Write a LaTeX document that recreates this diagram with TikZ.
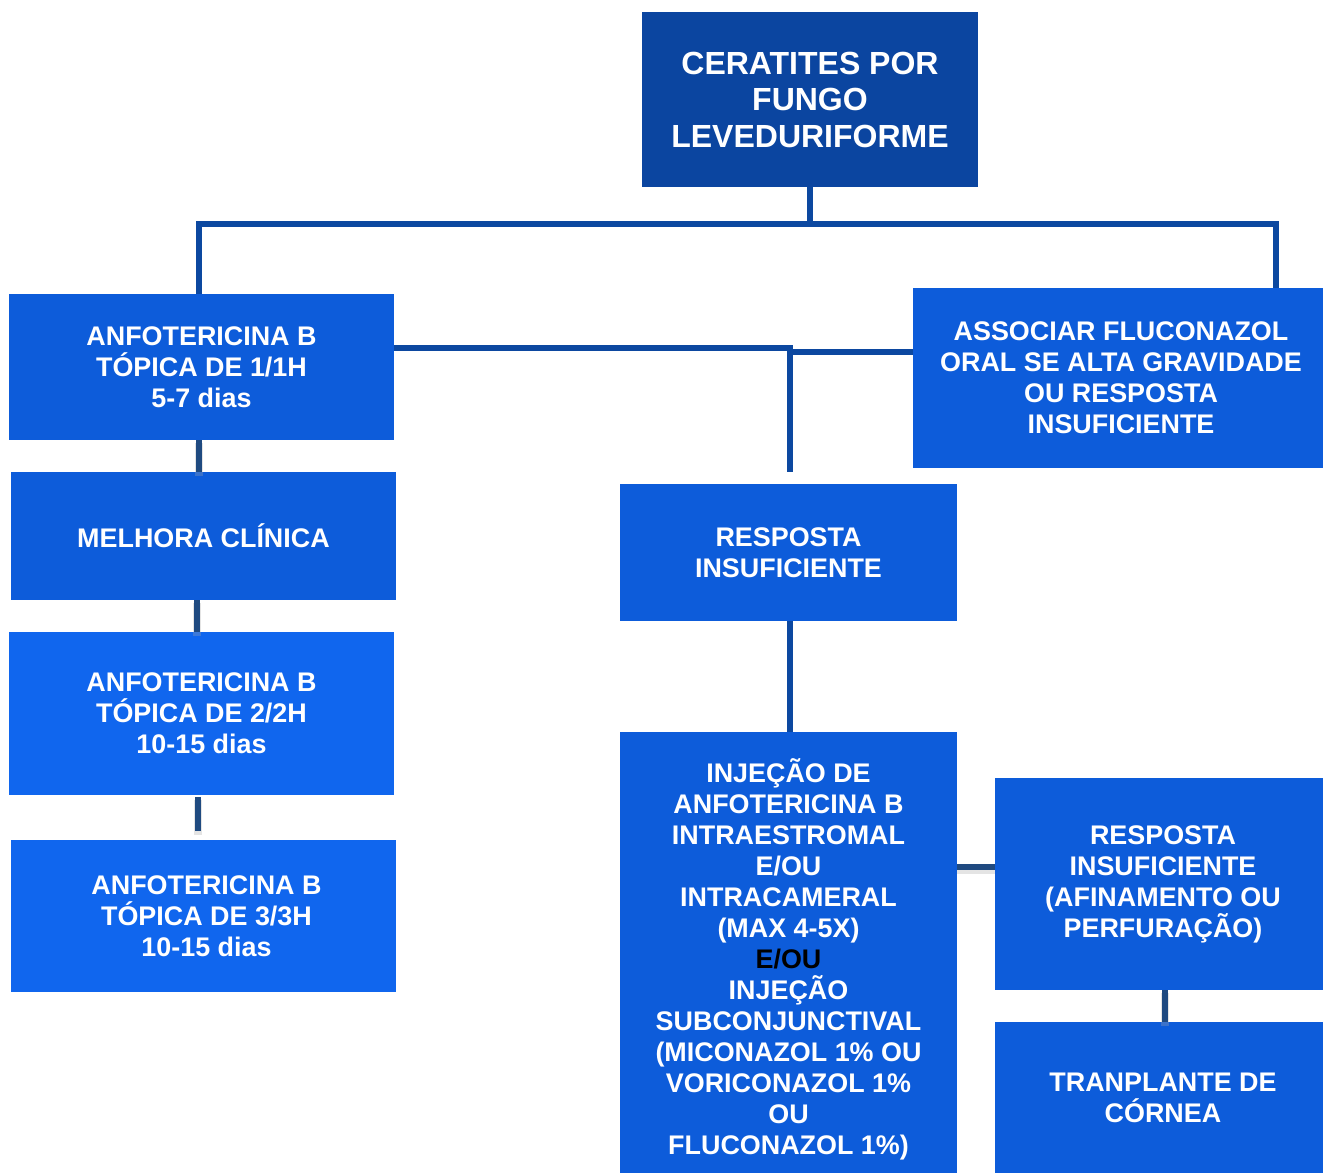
\documentclass[tikz,border=0pt]{standalone}
\usepackage{fontspec}
\setmainfont{Liberation Sans}
\usetikzlibrary{calc}
\definecolor{topblue}{RGB}{11,69,160}
\definecolor{boxone}{RGB}{13,92,218}
\definecolor{boxtwo}{RGB}{16,102,238}
\definecolor{conn}{RGB}{12,72,160}
\definecolor{shortconn}{RGB}{31,74,128}
\begin{document}
\begin{tikzpicture}[x=1pt,y=-1pt,
  basebox/.style={text=white, align=center, inner sep=0pt, anchor=center,
    font=\fontsize{26.9}{31}\selectfont\bfseries},
  boxa/.style={basebox, fill=boxone},
  boxb/.style={basebox, fill=boxtwo},
  topbox/.style={basebox, fill=topblue, font=\fontsize{32}{36.5}\selectfont\bfseries},
  mainline/.style={draw=conn, line width=6pt, line join=miter},
  shortline/.style={draw=shortconn, line width=6pt},
  shadowline/.style={draw=black!35, line width=8pt, opacity=0.3}
]
\useasboundingbox (0,0) rectangle (1323,1173);

% nodes
\node[topbox, minimum width=336pt, minimum height=175pt] (top) at (810,99.5)
  {CERATITES POR\\FUNGO\\LEVEDURIFORME};
\node[boxa, minimum width=385pt, minimum height=146pt] (A) at (201.5,367)
  {ANFOTERICINA B\\TÓPICA DE 1/1H\\5-7 dias};
\node[boxa, minimum width=385pt, minimum height=128pt] (mel) at (203.5,536)
  {MELHORA CLÍNICA};
\node[boxb, minimum width=385pt, minimum height=163pt] (B) at (201.5,713.5)
  {ANFOTERICINA B\\TÓPICA DE 2/2H\\10-15 dias};
\node[boxb, minimum width=385pt, minimum height=152pt] (C) at (203.5,916)
  {\hspace*{6pt}ANFOTERICINA B\\\hspace*{6pt}TÓPICA DE 3/3H\\\hspace*{6pt}10-15 dias};
\node[boxa, minimum width=410pt, minimum height=180pt] (assoc) at (1118,378)
  {\hspace*{6pt}ASSOCIAR FLUCONAZOL\\\hspace*{6pt}ORAL SE ALTA GRAVIDADE\\\hspace*{6pt}OU RESPOSTA\\\hspace*{6pt}INSUFICIENTE};
\node[boxa, minimum width=337pt, minimum height=137pt] (resp) at (788.5,552.5)
  {RESPOSTA\\INSUFICIENTE};
\node[boxa, minimum width=337pt, minimum height=441pt] (inj) at (788.5,952.5) {};
\node[basebox] (injtext) at (788.5,959.5)
  {INJEÇÃO DE\\ANFOTERICINA B\\INTRAESTROMAL\\E/OU\\INTRACAMERAL\\(MAX 4-5X)\\{\color{black}E/OU}\\INJEÇÃO\\SUBCONJUNCTIVAL\\(MICONAZOL 1\% OU\\VORICONAZOL 1\%\\OU\\FLUCONAZOL 1\%)};
\node[boxa, minimum width=328pt, minimum height=212pt] (resp2) at (1159,884)
  {\hspace*{8pt}RESPOSTA\\\hspace*{8pt}INSUFICIENTE\\\hspace*{8pt}(AFINAMENTO OU\\\hspace*{8pt}PERFURAÇÃO)};
\node[boxa, minimum width=328pt, minimum height=151pt] (tx) at (1159,1097.5)
  {\hspace*{8pt}TRANPLANTE DE\\\hspace*{8pt}CÓRNEA};

% junction coordinates
\coordinate (j1) at (810,224);
\coordinate (j2) at (790,348);
\coordinate (j3) at (790,352);
\coordinate (rend) at (790,472);
\coordinate (Cend) at (198,831);

% main connectors
\draw[mainline] (top.south) -- (j1);
\draw[mainline] ([xshift=-2.5pt]A.north) |- (j1) -| ([xshift=-47pt]assoc.north east);
\draw[mainline] ([yshift=19pt]A.east) -- (j2) -- (rend);
\draw[mainline] (j3) -- (assoc.west |- j3);
\draw[mainline] ([xshift=1.5pt]resp.south) -- ([xshift=1.5pt]inj.north);

% short connectors with soft shadow
\draw[shadowline] ([xshift=-2.5pt,yshift=-3pt]A.south) -- ($([xshift=-2.5pt]A.south |- mel.north)+(0,4)$);
\draw[shortline] ([xshift=-2.5pt]A.south) -- ([xshift=-2.5pt]A.south |- mel.north);
\draw[shadowline] ($([xshift=-6.5pt]mel.south)+(0,3)$) -- ($([xshift=-6.5pt]mel.south |- B.north)+(0,4)$);
\draw[shortline] ([xshift=-6.5pt]mel.south) -- ([xshift=-6.5pt]mel.south |- B.north);
\draw[shadowline] ($(B.south -| Cend)+(0,5)$) -- ($(Cend)+(0,4)$);
\draw[shortline] ($(B.south -| Cend)+(0,2)$) -- (Cend);
\draw[shadowline] ($(inj.east |- 0,870)$) -- ($(resp2.west |- 0,870)$);
\draw[shortline] (inj.east |- 0,867) -- (resp2.west |- 0,867);
\draw[shadowline] ($([xshift=6pt]resp2.south)+(0,3)$) -- ($([xshift=6pt]resp2.south |- tx.north)+(0,4)$);
\draw[shortline] ([xshift=6pt]resp2.south) -- ([xshift=6pt]resp2.south |- tx.north);
\end{tikzpicture}
\end{document}
